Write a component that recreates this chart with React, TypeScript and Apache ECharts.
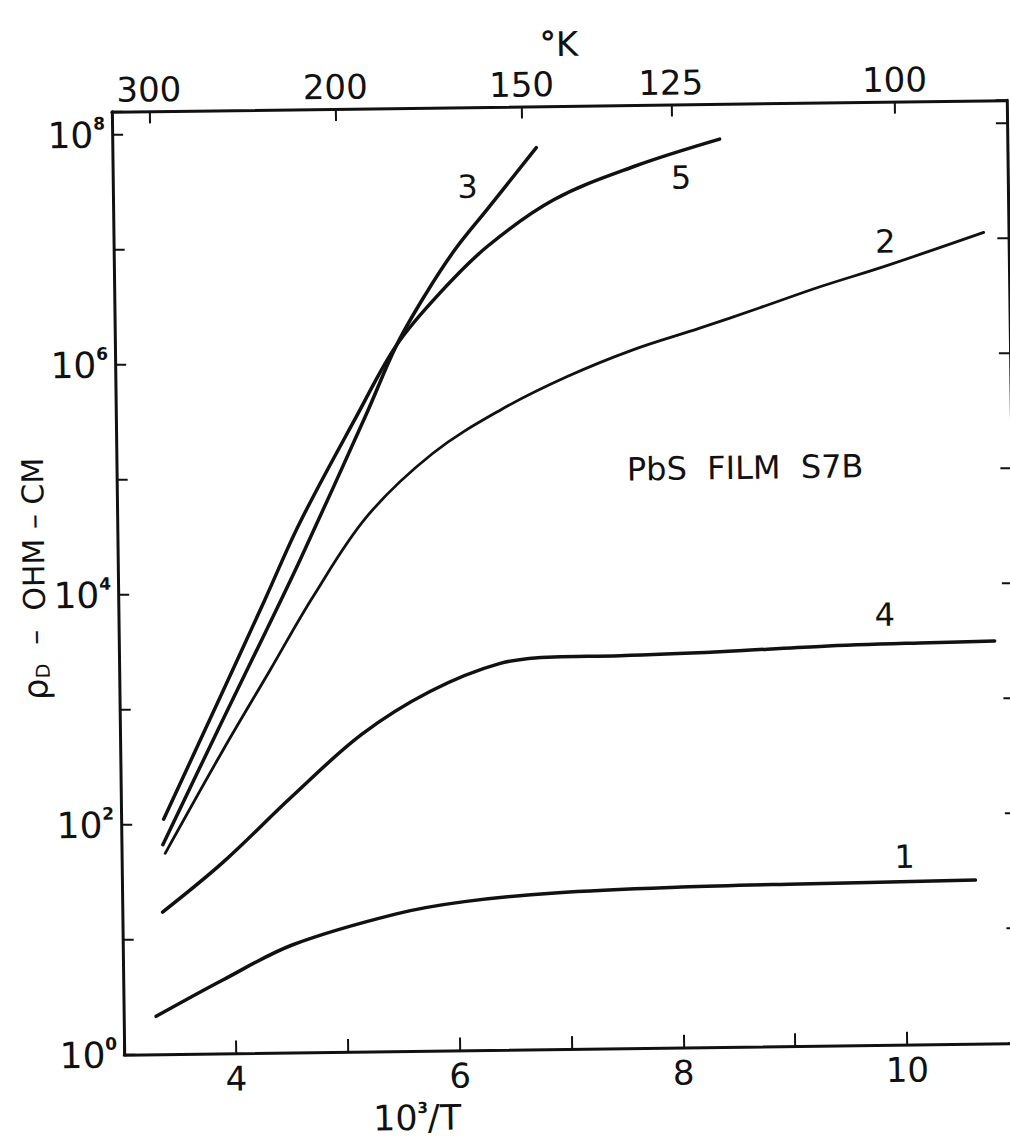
import React, { useEffect, useRef } from "react";
import * as echarts from "echarts";

// ---- data (x = 10^3/T, y = rho_D in ohm-cm) ----
const curve1X = [3.29, 3.89, 4.52, 5.45, 6.06, 6.87, 8.0, 9.06, 10.63];
const curve1Y = [2.15, 4.37, 8.69, 15.7, 19.7, 22.9, 24.9, 25.7, 26.5];

const curve2X = [3.39, 3.92, 4.35, 4.74, 5.23, 5.83, 6.44, 7.04, 7.63, 8.23, 8.77, 9.31, 9.91, 10.78];
const curve2Y = [56, 437, 2140, 9120, 44700, 157000, 367000, 703000, 1180000, 1790000, 2650000, 3970000, 5960000, 11300000];

const curve3X = [3.37, 3.92, 4.31, 4.63, 5.23, 5.52, 5.78, 6.05, 6.34, 6.79];
const curve3Y = [66.5, 796, 4520, 19200, 333000, 1390000, 3750000, 9160000, 20200000, 69200000];

const curve4X = [3.36, 3.91, 4.53, 5.16, 5.78, 6.4, 6.89, 7.48, 8.37, 9.27, 10.16, 10.83];
const curve4Y = [17.3, 46.5, 169, 575, 1340, 2290, 2580, 2600, 2740, 2970, 3100, 3160];

const curve5X = [3.38, 3.93, 4.31, 4.63, 5.15, 5.52, 5.91, 6.34, 6.94, 7.66, 8.43];
const curve5Y = [111, 1450, 8710, 40100, 333000, 1390000, 3860000, 9700000, 24300000, 46300000, 78300000];

// curve tags
const tagNames = ["3", "5", "2", "4", "1"];
const tagX = [6.17, 8.08, 9.9, 9.85, 10.0];
const tagY = [32200000, 36600000, 9620000, 5480, 42.9];

const noteText = "PbS  FILM  S7B";
const noteX = 8.62;
const noteY = 108000;

// axes
const bottomLabels = [4, 6, 8, 10];
const topTemps = [300, 200, 150, 125, 100];
const yLabelExps = [0, 2, 4, 6, 8];

const INK = "#111111";
const FONT = "DejaVu Sans";

function line(name: string, xs: number[], ys: number[], width: number) {
  return {
    type: "line",
    name,
    data: xs.map((x, i) => [x, ys[i]]),
    symbol: "none",
    showSymbol: false,
    smooth: 0.35,
    silent: true,
    lineStyle: { color: INK, width, cap: "round", join: "round" },
    xAxisIndex: 0,
    yAxisIndex: 0,
    z: 3,
  };
}

export default function App() {
  const ref = useRef<HTMLDivElement>(null);
  useEffect(() => {
    const chart = echarts.init(ref.current!, null, { renderer: "svg" });
    const topVals = topTemps.map((t) => 1000 / t);
    const axisLine = { show: true, onZero: false, lineStyle: { color: INK, width: 3 } };
    const labelBase = { color: INK, fontFamily: FONT };
    chart.setOption({
      animation: false,
      backgroundColor: "#ffffff",
      grid: { left: 118, top: 106, width: 894.8, height: 943.2, containLabel: false },
      xAxis: [
        {
          type: "value",
          position: "bottom",
          min: 3,
          max: 11,
          interval: 1,
          axisLine,
          axisTick: { show: true, inside: true, length: 13, lineStyle: { color: INK, width: 2 } },
          axisLabel: {
            ...labelBase,
            fontSize: 34,
            margin: 8,
            formatter: (v: number) => (bottomLabels.includes(Math.round(v)) && Math.abs(v - Math.round(v)) < 1e-6 ? String(Math.round(v)) : ""),
          },
          splitLine: { show: false },
        },
        {
          type: "value",
          position: "top",
          min: 3,
          max: 11,
          axisLine,
          axisTick: { show: true, inside: true, length: 12, customValues: topVals, lineStyle: { color: INK, width: 2 } },
          axisLabel: {
            ...labelBase,
            fontSize: 34,
            margin: 5,
            customValues: topVals,
            formatter: (v: number) => String(Math.round(1000 / v)),
          },
          splitLine: { show: false },
        },
      ],
      yAxis: [
        {
          type: "log",
          logBase: 10,
          min: 1,
          max: 158500000,
          position: "left",
          axisLine,
          axisTick: { show: true, inside: true, length: 11, lineStyle: { color: INK, width: 2 } },
          minorTick: { show: false },
          axisLabel: {
            ...labelBase,
            margin: 7,
            formatter: (v: number) => {
              const l = Math.log10(v);
              const e = Math.round(l);
              if (Math.abs(l - e) > 0.01 || !yLabelExps.includes(e)) return "";
              return `{b|10}{e|${e}}`;
            },
            rich: {
              b: { fontSize: 36, fontFamily: FONT, color: INK, lineHeight: 40 },
              e: { fontSize: 17, fontFamily: FONT, color: INK, verticalAlign: "top", lineHeight: 17, fontWeight: "bold" },
            },
          },
          splitLine: { show: false },
        },
        {
          type: "log",
          logBase: 10,
          min: 1,
          max: 158500000,
          position: "right",
          axisLine,
          axisTick: { show: true, inside: true, length: 11, lineStyle: { color: INK, width: 2 } },
          minorTick: { show: false },
          axisLabel: { show: false },
          splitLine: { show: false },
        },
      ],
      graphic: [
        {
          type: "text",
          x: 566,
          y: 44,
          style: {
            text: "{d|°}{k|K}",
            rich: {
              d: { fontSize: 32, fontWeight: "bold", fontFamily: FONT, fill: INK, verticalAlign: "top" },
              k: { fontSize: 34, fontFamily: FONT, fill: INK },
            },
            align: "center",
            verticalAlign: "middle",
            textAlign: "center",
            textVerticalAlign: "middle",
          },
        },
        {
          type: "text",
          x: 410,
          y: 1116,
          style: {
            text: "{a|10}{s|3}{a|/T}",
            rich: {
              a: { fontSize: 35, fontFamily: FONT, fill: INK },
              s: { fontSize: 15, fontFamily: FONT, fill: INK, verticalAlign: "top", fontWeight: "bold" },
            },
            align: "center",
            verticalAlign: "middle",
            textAlign: "center",
            textVerticalAlign: "middle",
          },
        },
        {
          type: "text",
          x: 34,
          y: 572,
          rotation: Math.PI / 2,
          style: {
            text: "{r|ρ}{s|D}{t|  –  OHM – CM}",
            rich: {
              r: { fontSize: 34, fontFamily: FONT, fill: INK },
              s: { fontSize: 19, fontFamily: FONT, fill: INK, verticalAlign: "bottom" },
              t: { fontSize: 30, fontFamily: FONT, fill: INK },
            },
            align: "center",
            verticalAlign: "middle",
            textAlign: "center",
            textVerticalAlign: "middle",
          },
        },
      ],
      series: [
        line("1", curve1X, curve1Y, 3.5),
        line("2", curve2X, curve2Y, 2.8),
        line("3", curve3X, curve3Y, 3.5),
        line("4", curve4X, curve4Y, 3.5),
        line("5", curve5X, curve5Y, 3.5),
        {
          type: "scatter",
          silent: true,
          symbolSize: 0.01,
          itemStyle: { color: INK },
          data: [
            ...tagNames.map((n, i) => ({ name: n, value: [tagX[i], tagY[i]] })),
            { name: noteText, value: [noteX, noteY] },
          ],
          label: {
            show: true,
            position: "inside",
            formatter: (p: any) => p.name,
            color: INK,
            opacity: 1,
            textBorderWidth: 0,
            fontFamily: FONT,
            fontSize: 32,
          },
          labelLayout: { hideOverlap: false },
          z: 5,
        },
      ],
    });
    return () => chart.dispose();
  }, []);
  return (
    <div
      style={{
        position: "absolute",
        left: 0,
        top: 0,
        width: 1010,
        height: 1148,
        overflow: "hidden",
        background: "#ffffff",
      }}
    >
      <div
        ref={ref}
        style={{
          position: "absolute",
          left: 0,
          top: 0,
          width: 1040,
          height: 1148,
          transform: "rotate(-0.75deg)",
          transformOrigin: "563px 578px",
        }}
      />
    </div>
  );
}
